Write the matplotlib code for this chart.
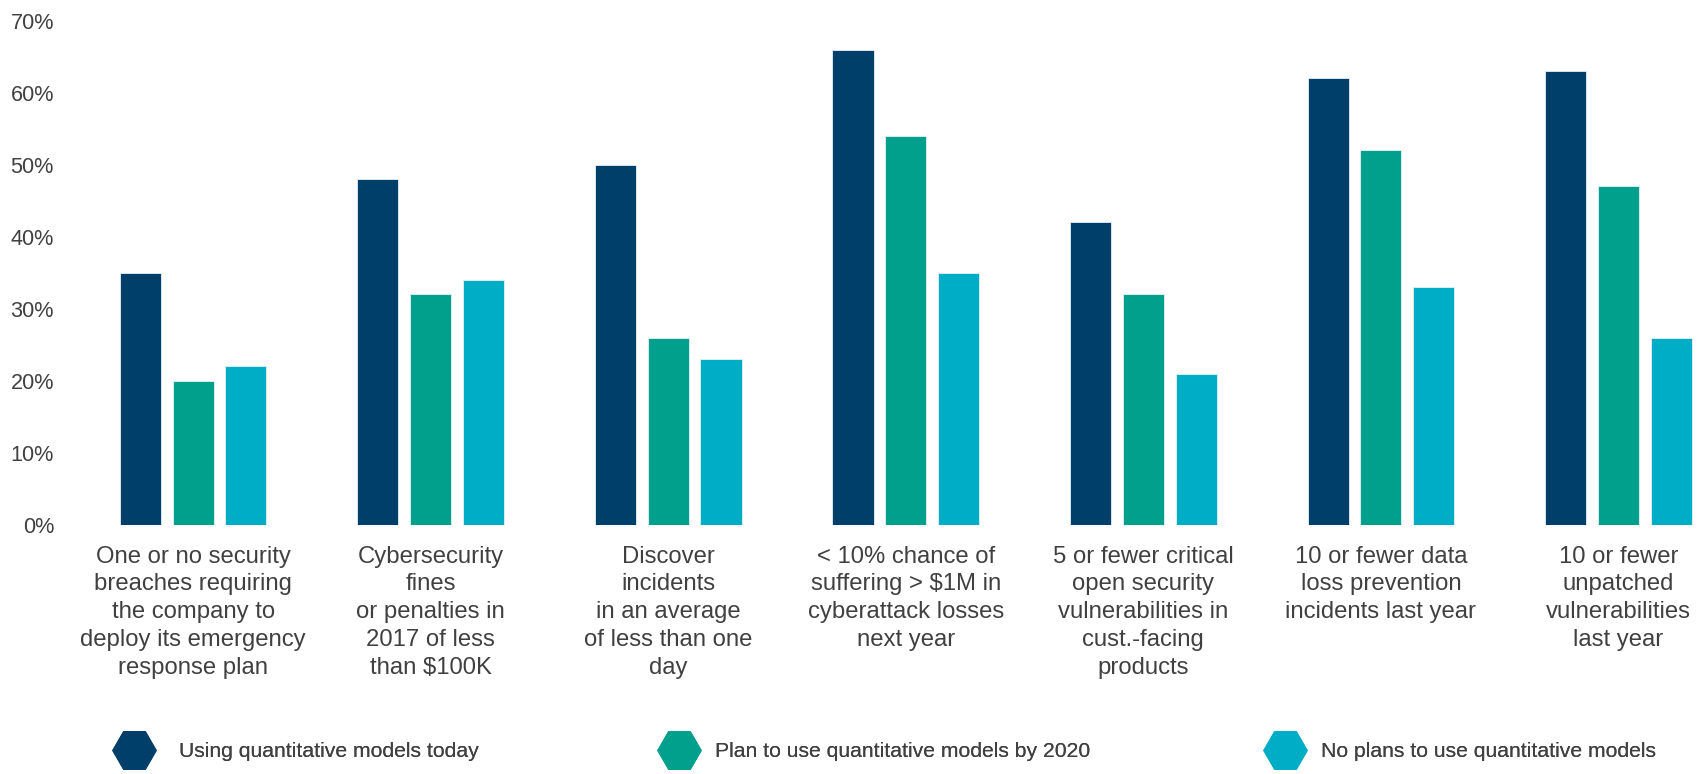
"""
Grouped bar chart: share of companies hitting cyber-risk outcomes, by
adoption of quantitative risk models.
"""

import matplotlib as mpl
import matplotlib.pyplot as plt
import numpy as np
from matplotlib.lines import Line2D

# ----------------------------------------------------------------------------
# Data
# ----------------------------------------------------------------------------
categories = [
    "One or no security\nbreaches requiring\nthe company to\ndeploy its emergency\nresponse plan",
    "Cybersecurity\nfines\nor penalties in\n2017 of less\nthan $100K",
    "Discover\nincidents\nin an average\nof less than one\nday",
    "< 10% chance of\nsuffering > $1M in\ncyberattack losses\nnext year",
    "5 or fewer critical\nopen security\nvulnerabilities in\ncust.-facing\nproducts",
    "10 or fewer data\nloss prevention\nincidents last year",
    "10 or fewer\nunpatched\nvulnerabilities\nlast year",
]
series_names = [
    "Using quantitative models today",
    "Plan to use quantitative models by 2020",
    "No plans to use quantitative models",
]
using_today = [35, 48, 50, 66, 42, 62, 63]
plan_2020 = [20, 32, 26, 54, 32, 52, 47]
no_plans = [22, 34, 23, 35, 21, 33, 26]
y_ticks = [0, 10, 20, 30, 40, 50, 60, 70]

# ----------------------------------------------------------------------------
# Style
# ----------------------------------------------------------------------------
COLOR_NAVY = "#003F6A"
COLOR_TEAL = "#00A08C"
COLOR_CYAN = "#00ADC6"
COLOR_TEXT = "#404040"

mpl.rcParams.update({
    "font.family": ["Liberation Sans", "DejaVu Sans"],
    "axes.spines.top": False,
    "axes.spines.right": False,
    "axes.spines.left": False,
    "axes.spines.bottom": False,
})

fig = plt.figure(figsize=(17, 7.74), dpi=100)
ax = fig.add_axes([70 / 1700, 0.322, 1 - 70 / 1700, 0.651])

x = np.arange(len(categories))
width = 0.173
step = 0.222
colors = [COLOR_NAVY, COLOR_TEAL, COLOR_CYAN]
for i, (vals, name, col) in enumerate(zip([using_today, plan_2020, no_plans],
                                          series_names, colors)):
    ax.bar(x + (i - 1) * step, vals, width=width, color=col, label=name,
           edgecolor="#E8F0F4", linewidth=0.6)

ax.set_xlim(-0.518, 6.343)
ax.set_ylim(0, 70)
ax.set_yticks(y_ticks)
ax.set_yticklabels([f"{v}%" for v in y_ticks], fontsize=15.6, color=COLOR_TEXT)
ax.set_xticks(x)
ax.set_xticklabels(categories, fontsize=17.2, color=COLOR_TEXT,
                   linespacing=1.34, parse_math=False, va="top")
ax.tick_params(axis="both", length=0)
ax.tick_params(axis="x", pad=15)
ax.tick_params(axis="y", pad=11.5)

# Legend: three single-entry legends so each item sits where the source has it.
legend_fs = 15.2
half_handle = 2.0 * legend_fs * 100 / 72 / 2  # px
marker_x = [134, 679, 1285]
text_gap = [45, 36, 36]
for name, col, mx, gap in zip(series_names, colors, marker_x, text_gap):
    h = Line2D([], [], linestyle="none", marker="H", markersize=31,
               markerfacecolor=col, markeredgecolor=col)
    leg = fig.legend([h], [name], loc="center left",
                     bbox_to_anchor=((mx - half_handle) / 1700, 0.029),
                     frameon=False, fontsize=legend_fs, labelcolor=COLOR_TEXT,
                     handlelength=2.0,
                     handletextpad=(gap - half_handle) / (legend_fs * 100 / 72),
                     borderpad=0, borderaxespad=0)
    fig.add_artist(leg)

fig.savefig("out.png", dpi=100)
